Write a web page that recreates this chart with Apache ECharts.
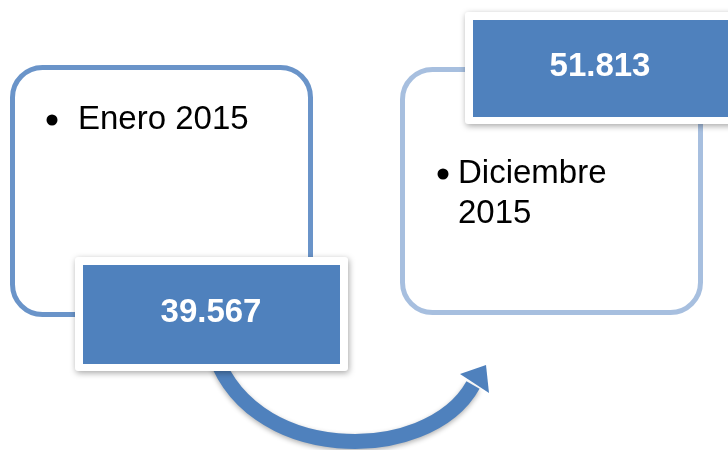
<!DOCTYPE html>
<html>
<head>
<meta charset="utf-8">
<script src="https://cdn.jsdelivr.net/npm/echarts@6/dist/echarts.min.js"></script>
<style>
  html, body { margin: 0; padding: 0; background: #fff; }
  #diagram { width: 728px; height: 450px; }
</style>
</head>
<body>
<div id="diagram"></div>
<script>
// datos del diagrama
const periods = ['Enero 2015', 'Diciembre 2015'];
const periodLines = [['Enero 2015'], ['Diciembre', '2015']];
const values = [39567, 51813];

const BLUE = '#4f81bd';
const FONT = '"Liberation Sans", Arial, sans-serif';

// formato con punto de miles
function fmt(v) {
    return String(v).replace(/\B(?=(\d{3})+(?!\d))/g, '.');
}

// cajas: contorno redondeado + caja del valor
const panels = [
    { x: 12.5, y: 67.5, w: 298, h: 247, stroke: '#6a94c9',
      textX: 78, textY: 120, bulletX: 52,
      box: { x: 75, y: 257, w: 273, h: 114 } },
    { x: 402.5, y: 69.5, w: 298, h: 243, stroke: '#a7bfdf',
      textX: 458, textY: 174, bulletX: 443,
      box: { x: 465, y: 12, w: 275, h: 112 } }
];

const elements = [];

panels.forEach(function (p, i) {
    elements.push({
        type: 'rect',
        z: 1,
        shape: { x: p.x, y: p.y, width: p.w, height: p.h, r: 30 },
        style: { fill: '#fff', stroke: p.stroke, lineWidth: 5 }
    });
    elements.push({
        type: 'circle',
        z: 2,
        shape: { cx: p.bulletX, cy: p.textY, r: 5.5 },
        style: { fill: '#000' }
    });
    periodLines[i].forEach(function (line, k) {
        elements.push({
            type: 'text',
            z: 2,
            x: p.textX,
            y: p.textY + k * 40,
            style: {
                text: line,
                fill: '#000',
                font: '33px ' + FONT,
                align: 'left',
                verticalAlign: 'middle'
            }
        });
    });
});

// flecha curva
elements.push({
    type: 'bezierCurve',
    z: 3,
    shape: { x1: 212, y1: 345, cpx1: 244, cpy1: 466, cpx2: 428, cpy2: 466, x2: 473, y2: 385 },
    style: {
        stroke: BLUE, lineWidth: 15, fill: null,
        shadowBlur: 5, shadowColor: 'rgba(0,0,0,0.3)', shadowOffsetY: 2
    }
});
elements.push({
    type: 'polygon',
    z: 3,
    shape: { points: [[460, 374], [486, 365], [489, 393]] },
    style: { fill: BLUE }
});

// cajas de valores
panels.forEach(function (p, i) {
    const b = p.box;
    elements.push({
        type: 'rect',
        z: 5,
        shape: { x: b.x, y: b.y, width: b.w, height: b.h, r: 3 },
        style: {
            fill: '#fff',
            shadowBlur: 6, shadowColor: 'rgba(0,0,0,0.35)', shadowOffsetX: 1, shadowOffsetY: 2
        }
    });
    elements.push({
        type: 'rect',
        z: 6,
        shape: { x: b.x + 8, y: b.y + 8, width: b.w - 16, height: b.h - 15 },
        style: { fill: BLUE }
    });
});

const valueCenters = [[211, 313], [600, 67]];
values.forEach(function (v, i) {
    elements.push({
        type: 'text',
        z: 7,
        x: valueCenters[i][0],
        y: valueCenters[i][1],
        style: {
            text: fmt(v),
            fill: '#fff',
            font: 'bold 33px ' + FONT,
            align: 'center',
            verticalAlign: 'middle'
        }
    });
});

const chart = echarts.init(document.getElementById('diagram'));
chart.setOption({
    backgroundColor: '#fff',
    animation: false,
    graphic: { elements: elements }
});
window.addEventListener('resize', function () {
    chart.resize();
});
</script>
</body>
</html>
